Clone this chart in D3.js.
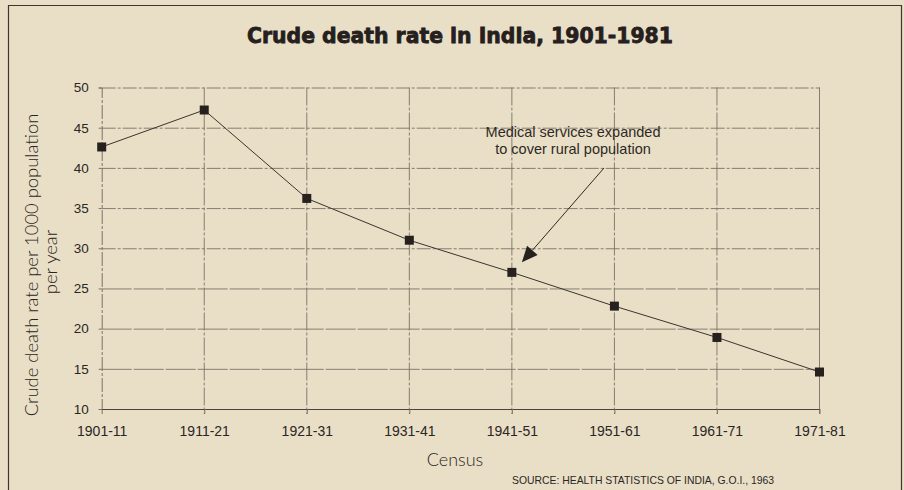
<!DOCTYPE html>
<html>
<head>
<meta charset="utf-8">
<script src="https://cdn.jsdelivr.net/npm/d3@7"></script>
<style>
  html, body { margin: 0; padding: 0; background: #e9dfc7; }
  svg { display: block; }
</style>
</head>
<body>
<svg id="chart" width="904" height="490"></svg>
<script>
const categories = ["1901-11", "1911-21", "1921-31", "1931-41", "1941-51", "1951-61", "1961-71", "1971-81"];
const deathRate = [42.6, 47.2, 36.2, 31.0, 27.0, 22.8, 18.9, 14.6];
const yTicks = [10, 15, 20, 25, 30, 35, 40, 45, 50];
const titleText = "Crude death rate in India, 1901-1981";
const yTitleLines = ["Crude death rate per 1000 population", "per year"];
const xTitle = "Census";
const sourceText = "SOURCE: HEALTH STATISTICS OF INDIA, G.O.I., 1963";
const annotationLines = ["Medical services expanded", "to cover rural population"];
const annotationTarget = "1941-51";

const svg = d3.select("#chart");
const W = 904, H = 490;
const ink = "#2b2622";
const gridColor = "#7a7266";
const sans = "'Liberation Sans', Arial, sans-serif";
const light = "Lato, 'Noto Sans', sans-serif";

svg.append("rect").attr("width", W).attr("height", H).attr("fill", "#e9dfc7");
// outer frame
svg.append("path")
  .attr("d", "M8.5,495 L8.5,5.5 L901.5,5.5 L901.5,495")
  .attr("fill", "none").attr("stroke", "#3d3731").attr("stroke-width", 1.2);

const x = d3.scalePoint().domain(categories).range([101.7, 819.5]);
const y = d3.scaleLinear().domain([10, 50]).range([409, 87.5]);

const g = svg.append("g");

// horizontal gridlines
g.append("g").selectAll("line").data(yTicks.filter(d => d !== 10)).join("line")
  .attr("x1", 101.7).attr("x2", 820)
  .attr("y1", d => y(d) + 0.5).attr("y2", d => y(d) + 0.5)
  .attr("stroke", gridColor).attr("stroke-width", 0.9)
  .attr("stroke-dasharray", d => d >= 30 ? "14,2,3,2" : "30,2");

// vertical gridlines
g.append("g").selectAll("line").data(categories.slice(1)).join("line")
  .attr("x1", d => x(d)).attr("x2", d => x(d))
  .attr("y1", y(50)).attr("y2", y(10) + 5)
  .attr("stroke", gridColor).attr("stroke-width", 0.9)
  .attr("stroke-dasharray", (d, i) => i === categories.length - 2 ? null : "18,2,3,2");

// y axis
const yAxis = d3.axisLeft(y).tickValues(yTicks).tickSize(3).tickPadding(10);
const ya = svg.append("g").attr("transform", "translate(101.7,0)").call(yAxis);
ya.select(".domain").attr("stroke", gridColor).attr("stroke-dasharray", "14,2,3,2");
ya.selectAll(".tick line").attr("stroke", gridColor);
ya.selectAll(".tick text")
  .attr("font-family", sans)
  .attr("font-size", 13.5).attr("fill", ink);

// x axis
const xAxis = d3.axisBottom(x).tickSize(5).tickPadding(12);
const xa = svg.append("g").attr("transform", `translate(0,${y(10)})`).call(xAxis);
xa.select(".domain").attr("stroke", "#4a443c").attr("d", `M101.7,0.5H820`);
xa.selectAll(".tick line").attr("stroke", gridColor);
xa.selectAll(".tick text")
  .attr("font-family", sans)
  .attr("font-size", 14).attr("fill", ink);

// data line
const line = d3.line().x((d, i) => x(categories[i])).y(d => y(d));
svg.append("path").datum(deathRate)
  .attr("d", line).attr("fill", "none")
  .attr("stroke", "#3a342e").attr("stroke-width", 1);

// markers
svg.append("g").selectAll("rect").data(deathRate).join("rect")
  .attr("x", (d, i) => x(categories[i]) - 4.5)
  .attr("y", d => y(d) - 4.5)
  .attr("width", 9).attr("height", 9)
  .attr("fill", "#26211e");

// title
svg.append("text")
  .attr("x", 460).attr("y", 43)
  .attr("text-anchor", "middle")
  .attr("font-family", "'DejaVu Sans', sans-serif")
  .attr("font-weight", 700)
  .attr("font-size", 20.4)
  .attr("fill", "#25201d")
  .attr("stroke", "#25201d")
  .attr("stroke-width", 0.8)
  .text(titleText);

// y title
yTitleLines.forEach((t, i) => {
  svg.append("text")
    .attr("transform", `translate(${i === 0 ? 38 : 57},${i === 0 ? 265 : 262}) rotate(-90)`)
    .attr("font-family", light)
    .attr("font-weight", 300)
    .attr("font-size", 18.4)
    .attr("fill", "#2a2420")
    .attr("text-anchor", "middle")
    .text(t);
});

// x title
svg.append("text")
  .attr("x", 455).attr("y", 466)
  .attr("text-anchor", "middle")
  .attr("font-family", light)
  .attr("font-weight", 300)
  .attr("font-size", 18)
  .attr("fill", "#2a2420")
  .text(xTitle);

// source
svg.append("text")
  .attr("x", 512).attr("y", 484)
  .attr("font-family", sans)
  .attr("font-size", 10.4)
  .attr("fill", "#2b2622")
  .text(sourceText);

// annotation
annotationLines.forEach((t, i) => {
  svg.append("text")
    .attr("x", 573).attr("y", 137 + i * 17)
    .attr("text-anchor", "middle")
    .attr("font-family", sans)
    .attr("font-size", 14.5)
    .attr("fill", "#2e2925")
    .text(t);
});
const ti = categories.indexOf(annotationTarget);
const tipX = x(annotationTarget) + 10, tipY = y(deathRate[ti]) - 10;
const startX = 604, startY = 168;
const ang = Math.atan2(tipY - startY, tipX - startX);
const headLen = 16, headW = 7;
const bx = tipX - headLen * Math.cos(ang), by = tipY - headLen * Math.sin(ang);
svg.append("line")
  .attr("x1", startX).attr("y1", startY).attr("x2", bx).attr("y2", by)
  .attr("stroke", "#2e2925").attr("stroke-width", 1);
svg.append("path")
  .attr("d", `M${tipX},${tipY} L${bx + headW * Math.sin(ang)},${by - headW * Math.cos(ang)} L${bx - headW * Math.sin(ang)},${by + headW * Math.cos(ang)} Z`)
  .attr("fill", "#26211e");
</script>
</body>
</html>
